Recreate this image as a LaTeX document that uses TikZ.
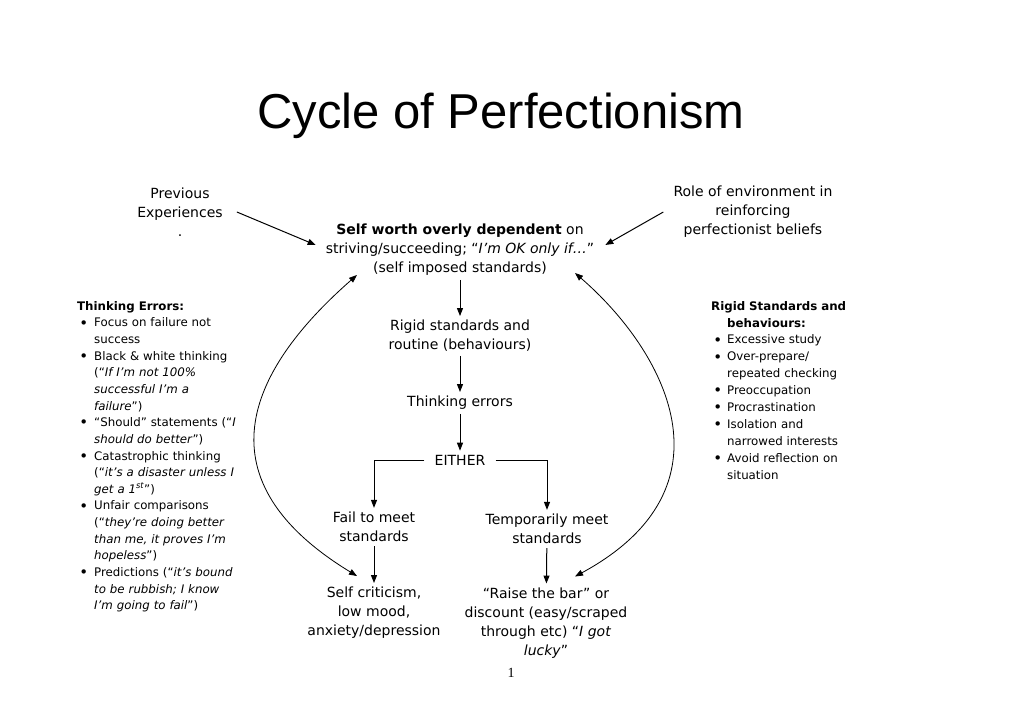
\documentclass[tikz,border=0pt]{standalone}
\usepackage{fontspec}
\setmainfont{DejaVu Sans}
\newfontfamily\titlefont{Liberation Sans}
\newfontfamily\pagefont{Liberation Serif}
\usepackage{enumitem}
\usetikzlibrary{arrows.meta}

\tikzset{
  box/.style={align=center, inner sep=4pt, font=\fontsize{14}{19}\selectfont},
  listbox/.style={anchor=north west, inner sep=0pt, text width=200pt, align=left},
  flowarrow/.style={-{Triangle[length=8pt,width=6pt]}, line width=1pt},
  cyclearc/.style={{Triangle[length=8pt,width=6pt]}-{Triangle[length=8pt,width=6pt]}, line width=0.8pt},
}
\newcommand{\listdot}{\raisebox{-1.2pt}{\fontsize{15}{15}\selectfont\textbullet}}

\begin{document}
\begin{tikzpicture}[x=1pt,y=-1pt]
  \fill[white] (0,0) rectangle (1024,725);
  \useasboundingbox (0,0) rectangle (1024,725);

  % title and page number
  \node[anchor=base, inner sep=0pt, font=\titlefont\fontsize{49}{50}\selectfont] (title) at (501,128) {Cycle of Perfectionism};
  \node[inner sep=0pt, font=\pagefont\fontsize{14}{16}\selectfont] (pagenum) at (511,673) {1};

  % cycle
  \node[box] (prev) at (180,212) {Previous\\ Experiences\\ .};
  \node[box] (role) at (753,212) {Role of environment in\\ reinforcing\\ perfectionist beliefs};
  \node[box] (worth) at (460,250) {\textbf{Self worth overly dependent} on\\ striving/succeeding; “\textit{I’m OK only if…}”\\ (self imposed standards)};
  \node[box] (rigid) at (460,336) {Rigid standards and\\ routine (behaviours)};
  \node[box] (think) at (460,403) {Thinking errors};
  \node[box, inner xsep=10pt] (either) at (460,460) {EITHER};
  \node[box] (fail) at (374,527) {Fail to meet\\ standards};
  \node[box] (temp) at (547,529) {Temporarily meet\\ standards};
  \node[box] (crit) at (374,613) {Self criticism,\\ low mood,\\ anxiety/depression};
  \node[box] (raise) at (546,623) {“Raise the bar” or\\ discount (easy/scraped\\ through etc) “\textit{I got}\\ \textit{lucky}”};

  \draw[flowarrow] ([xshift=10pt]prev.east) -- ([shift={(-6,-5)}]worth.west);
  \draw[flowarrow] ([xshift=-6pt]role.west) -- ([shift={(7,-5)}]worth.east);
  \draw[flowarrow] (worth) -- (rigid);
  \draw[flowarrow] (rigid) -- (think);
  \draw[flowarrow] (think) -- (either);
  \draw[flowarrow] (either.west) -| (fail);
  \draw[flowarrow] (either.east) -| (temp);
  \draw[flowarrow] (fail) -- (crit);
  \draw[flowarrow] (temp) -- (raise);

  \draw[cyclearc] ([shift={(-103,-5)}]worth.south) .. controls (244,374) and (201,481) .. ([shift={(-17,-7)}]crit.north);
  \draw[cyclearc] ([shift={(115,-7)}]worth.south) .. controls (664,350) and (740,487) .. ([shift={(29,-7)}]raise.north);

  % side lists
  \node[listbox, font=\fontsize{11.8}{16.65}\selectfont] (errors) at (77,301) {\textbf{Thinking Errors:}
    \begin{itemize}[leftmargin=17pt, labelsep=6pt, itemsep=0pt, topsep=0pt, parsep=0pt, partopsep=0pt, label=\listdot]
      \item Focus on failure not\\ success
      \item Black \& white thinking\\ (“\textit{If I’m not 100\%\\ successful I’m a\\ failure}”)
      \item “Should” statements (“\textit{I\\ should do better}”)
      \item Catastrophic thinking\\ (“\textit{it’s a disaster unless I\\ get a 1\textsuperscript{st}}”)
      \item Unfair comparisons\\ (“\textit{they’re doing better\\ than me, it proves I’m\\ hopeless}”)
      \item Predictions (“\textit{it’s bound\\ to be rubbish; I know\\ I’m going to fail}”)
    \end{itemize}};
  \node[listbox, font=\fontsize{11.8}{16.9}\selectfont] (behaviours) at (711,301) {\textbf{Rigid Standards and}\\ \hspace*{16pt}\textbf{behaviours:}
    \begin{itemize}[leftmargin=16pt, labelsep=5pt, itemsep=0pt, topsep=0pt, parsep=0pt, partopsep=0pt, label=\listdot]
      \item Excessive study
      \item Over-prepare/\\ repeated checking
      \item Preoccupation
      \item Procrastination
      \item Isolation and\\ narrowed interests
      \item Avoid reflection on\\ situation
    \end{itemize}};
\end{tikzpicture}
\end{document}
